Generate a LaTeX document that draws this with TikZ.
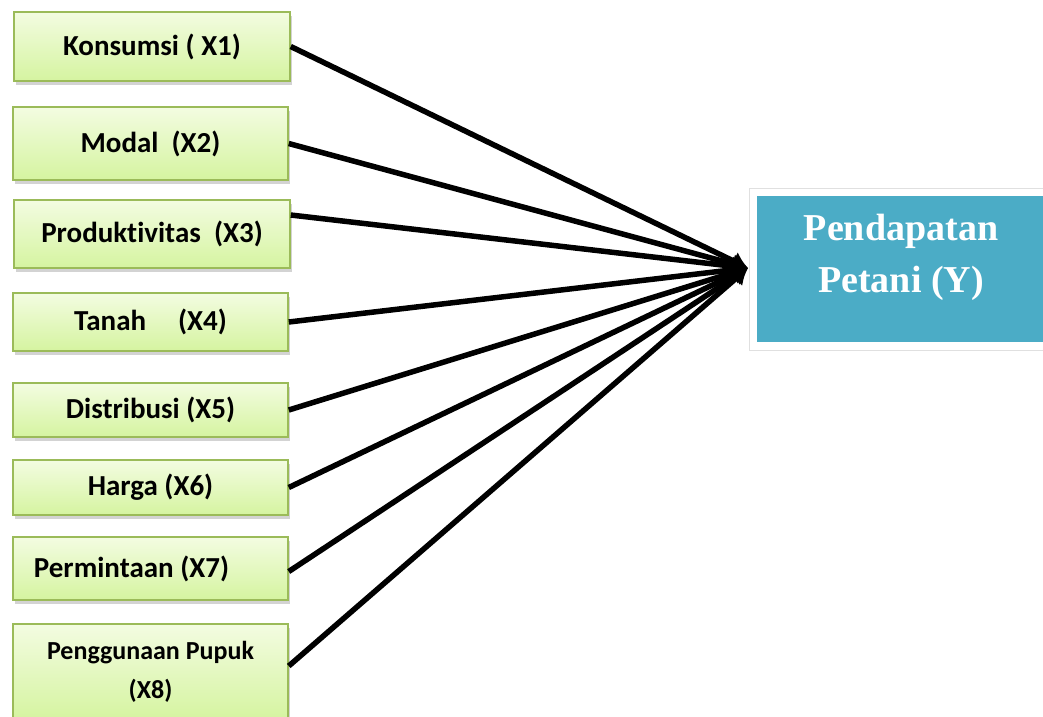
\documentclass[tikz,border=0pt]{standalone}
\usepackage{fontspec}
\setmainfont{Carlito}[Ligatures=NoCommon]
\newfontfamily\tnr{Liberation Serif}
\usetikzlibrary{shadows,arrows.meta,calc}
\definecolor{boxline}{RGB}{155,187,89}
\definecolor{boxtop}{RGB}{243,252,225}
\definecolor{boxbot}{RGB}{213,244,160}
\definecolor{ybl}{RGB}{75,172,198}
\begin{document}
\begin{tikzpicture}[x=1pt,y=1pt,
 var/.style={draw=boxline, line width=1.5pt, top color=boxtop, bottom color=boxbot,
   drop shadow={shadow xshift=1.5pt,shadow yshift=-3.5pt,opacity=.35},
   minimum width=275pt, inner sep=0pt, font=\bfseries\fontsize{29}{36}\selectfont},
 link/.style={line width=5.5pt, -{Latex[length=16pt,width=20pt]}}]
\useasboundingbox (0,0) rectangle (1043,-716);
\clip (0,0) rectangle (1043,-716);

\node[var, minimum width=276pt, minimum height=69pt] (X1) at (152,-46.5) {Konsumsi ( X1)};
\node[var, minimum height=73pt] (X2) at (150.5,-143.5) {Modal\ \ (X2)};
\node[var, minimum width=276pt, minimum height=68pt] (X3) at (152,-234) {Produktivitas\ \ (X3)};
\node[var, minimum height=58pt] (X4) at (150.5,-322) {Tanah\hspace{1.1em}(X4)};
\node[var, minimum height=54pt] (X5) at (150.5,-410) {Distribusi (X5)};
\node[var, minimum height=55pt] (X6) at (150.5,-487.5) {Harga (X6)};
\node[var, minimum height=63pt] (X7) at (150.5,-568.5) {Permintaan (X7)\hspace*{38pt}};
\node[var, minimum height=96pt, align=center, font=\bfseries\fontsize{26}{39}\selectfont] (X8) at (150.5,-672) {Penggunaan Pupuk\\(X8)};

\node[fill=ybl, draw=white, line width=8pt, minimum width=294pt, minimum height=154pt,
  drop shadow={shadow xshift=1pt,shadow yshift=-5pt,opacity=.3}] (Y) at (900,-269) {};
\draw[black!12, line width=1pt] (Y.south west) rectangle (Y.north east);
\node[text=white, align=center, font=\tnr\bfseries\fontsize{38}{52}\selectfont] (Ylab) at (901,-257) {Pendapatan\\Petani (Y)};

\coordinate (tip) at (748,-268);
\draw[link] (X1.east) -- (tip);
\draw[link] (X2.east) -- (tip);
\draw[link] ($(X3.east)+(0,19)$) -- (tip);
\draw[link] (X4.east) -- (tip);
\draw[link] (X5.east) -- (tip);
\draw[link] (X6.east) -- (tip);
\draw[link] ($(X7.east)+(0,-3)$) -- (tip);
\draw[link] ($(X8.east)+(0,6)$) -- (tip);
\end{tikzpicture}
\end{document}
